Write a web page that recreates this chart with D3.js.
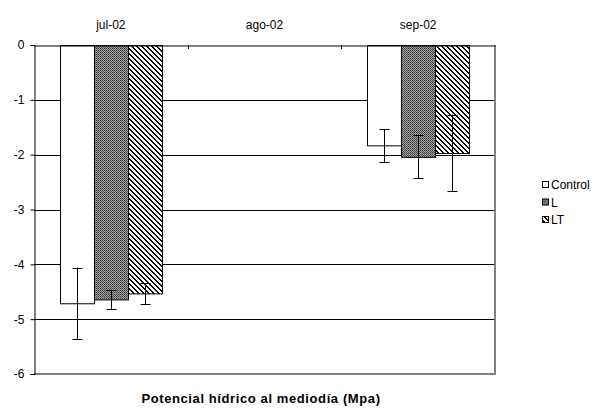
<!DOCTYPE html>
<html>
<head>
<meta charset="utf-8">
<script src="https://cdn.jsdelivr.net/npm/d3@7"></script>
<style>
body{margin:0;background:#fff;}
svg{display:block;font-family:"Liberation Sans",Arial,sans-serif;}
</style>
</head>
<body>
<svg id="c" width="604" height="408"></svg>
<script>
const categories = ["jul-02", "ago-02", "sep-02"];
const series = ["Control", "L", "LT"];
const controlValues = [-4.71, null, -1.83];
const lValues = [-4.64, null, -2.04];
const ltValues = [-4.53, null, -1.97];
const controlErr = [0.65, null, 0.30];
const lErr = [0.17, null, 0.39];
const ltErr = [0.19, null, 0.70];
const yTicks = [0, -1, -2, -3, -4, -5, -6];
const chartTitle = "Potencial hídrico al mediodía (Mpa)";

const values = [controlValues, lValues, ltValues];
const errs = [controlErr, lErr, ltErr];

const svg = d3.select("#c");
const defs = svg.append("defs");
// checkered pattern for L
const pL = defs.append("pattern").attr("id","patL").attr("patternUnits","userSpaceOnUse")
  .attr("width",2).attr("height",2);
pL.append("rect").attr("width",2).attr("height",2).attr("fill","#a0a0a0");
pL.append("rect").attr("width",1).attr("height",1).attr("fill","#3a3a3a");
pL.append("rect").attr("x",1).attr("y",1).attr("width",1).attr("height",1).attr("fill","#555");
// diagonal stripes for LT (top-left to bottom-right), pixel-crisp
const pT = defs.append("pattern").attr("id","patLT").attr("patternUnits","userSpaceOnUse")
  .attr("width",5).attr("height",5);
pT.append("rect").attr("width",5).attr("height",5).attr("fill","#fff");
d3.range(5).forEach(i => {
  pT.append("rect").attr("x", i).attr("y", i).attr("width", Math.min(2, 5 - i)).attr("height", 1).attr("fill", "#000");
});
pT.append("rect").attr("x", 0).attr("y", 4).attr("width", 1).attr("height", 1).attr("fill", "#000");
const fills = ["#fff", "url(#patL)", "url(#patLT)"];

const pLeft = 34, pRight = 495, pTop = 45, pBottom = 374;
const x = d3.scaleBand().domain(categories).range([pLeft, pRight]).paddingInner(0).paddingOuter(0);
const xs = d3.scaleBand().domain(series).range([0, x.bandwidth()]).paddingInner(0).paddingOuter(0.76);
const y = d3.scaleLinear().domain([-6, 0]).range([pBottom, pTop]);

// gridlines
svg.append("g").selectAll("line").data(yTicks.filter(d => d !== 0 && d !== -6)).join("line")
  .attr("x1", pLeft).attr("x2", pRight)
  .attr("y1", d => Math.round(y(d)) + 0.5).attr("y2", d => Math.round(y(d)) + 0.5)
  .attr("stroke", "#000").attr("stroke-width", 1);

// plot border (right & bottom)
svg.append("line").attr("x1", pRight).attr("x2", pRight).attr("y1", pTop).attr("y2", pBottom)
  .attr("stroke", "#808080").attr("stroke-width", 2);
svg.append("line").attr("x1", pLeft).attr("x2", pRight + 1).attr("y1", pBottom).attr("y2", pBottom)
  .attr("stroke", "#808080").attr("stroke-width", 2);

// bars
const data = [];
categories.forEach((c, i) => series.forEach((s, j) => {
  if (values[j][i] != null) data.push({c, s, j, v: values[j][i], e: errs[j][i]});
}));
const gBars = svg.append("g");
gBars.selectAll("rect").data(data).join("rect")
  .attr("x", d => Math.round(x(d.c) + xs(d.s)) + 0.5)
  .attr("y", y(0) + 0.5)
  .attr("width", xs.bandwidth())
  .attr("height", d => y(d.v) - y(0))
  .attr("fill", d => fills[d.j])
  .attr("stroke", "#000").attr("stroke-width", 1);

// error bars
const gE = svg.append("g").attr("stroke", "#000").attr("stroke-width", 1);
data.forEach(d => {
  const cx = Math.round(x(d.c) + xs(d.s) + xs.bandwidth() / 2) + 0.5;
  const y1 = y(d.v + d.e), y2 = y(d.v - d.e);
  gE.append("line").attr("x1", cx).attr("x2", cx).attr("y1", y1).attr("y2", y2);
  gE.append("line").attr("x1", cx - 5).attr("x2", cx + 5).attr("y1", Math.round(y1) + 0.5).attr("y2", Math.round(y1) + 0.5);
  gE.append("line").attr("x1", cx - 5).attr("x2", cx + 5).attr("y1", Math.round(y2) + 0.5).attr("y2", Math.round(y2) + 0.5);
});

// left axis
const yAxis = d3.axisLeft(y).tickValues(yTicks).tickSize(4).tickPadding(6).tickFormat(d => String(d));
const ga = svg.append("g").attr("transform", `translate(${pLeft + 0.5},0)`).call(yAxis);
ga.select(".domain").attr("stroke", "#000");
ga.selectAll(".tick line").attr("stroke", "#000");
ga.selectAll("text").attr("font-size", 12).attr("fill", "#000")
  .attr("font-family", "'Liberation Sans', Arial, sans-serif");

// top category axis
const xAxis = d3.axisTop(x).tickSize(0).tickPadding(17);
const gx = svg.append("g").attr("transform", `translate(0,${pTop + 0.5})`).call(xAxis);
gx.select(".domain").attr("stroke", "#000");
gx.selectAll("text").attr("font-size", 12).attr("fill", "#000")
  .attr("font-family", "'Liberation Sans', Arial, sans-serif");
svg.append("g").selectAll("line").data(categories.slice(1)).join("line")
  .attr("x1", d => Math.round(x(d)) + 0.5).attr("x2", d => Math.round(x(d)) + 0.5)
  .attr("y1", pTop).attr("y2", pTop + 4).attr("stroke", "#000");

// legend
const lg = svg.append("g").attr("transform", "translate(542,185)");
series.forEach((s, i) => {
  const g = lg.append("g").attr("transform", `translate(0,${i * 17.5})`);
  g.append("rect").attr("x", 0.5).attr("y", -3.5).attr("width", 6).attr("height", 6)
    .attr("fill", fills[i]).attr("stroke", "#000");
  g.append("text").attr("x", 9).attr("y", 0).attr("dy", "0.35em")
    .attr("font-size", 12).text(s);
});

// title
svg.append("text").attr("x", 261).attr("y", 403).attr("text-anchor", "middle")
  .attr("font-size", 13).attr("font-weight", "bold").attr("letter-spacing", 0.6).text(chartTitle);
</script>
</body>
</html>
